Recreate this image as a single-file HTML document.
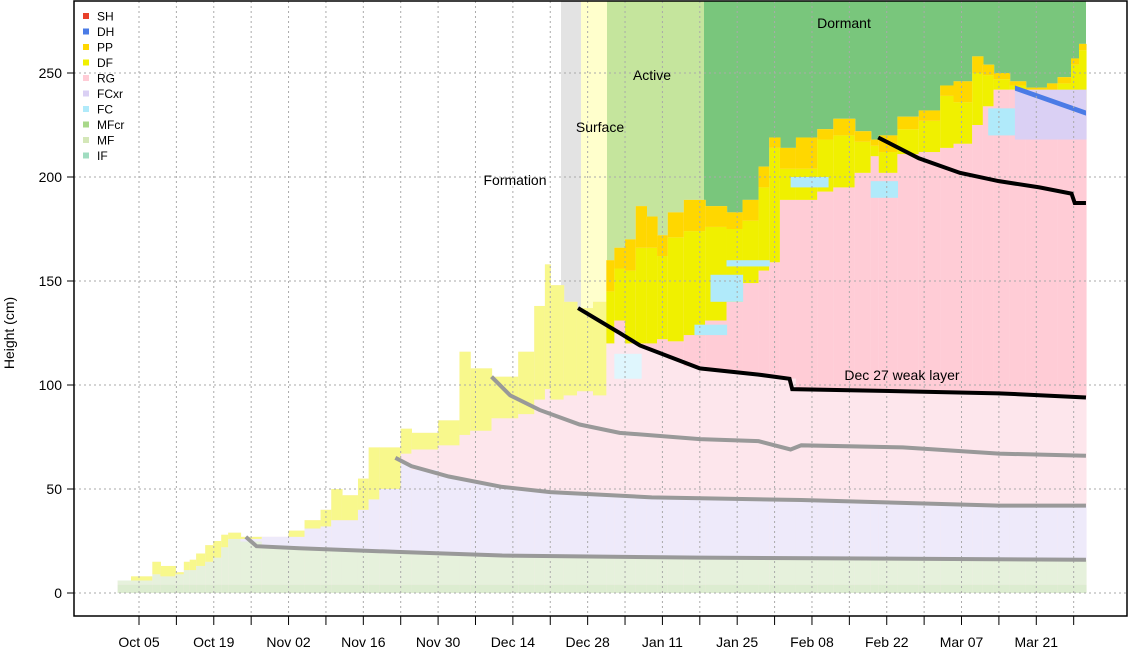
<!DOCTYPE html>
<html><head><meta charset="utf-8"><style>
html,body{margin:0;padding:0;background:#fff;}
svg{display:block;font-family:"Liberation Sans",Arial,sans-serif;}
</style></head>
<body>
<svg id="chart" width="1128" height="651" viewBox="0 0 1128 651">
<g id="bg"></g>
<g id="snow"></g>
<g id="grid"></g>
<g id="lines"></g>
<g id="axes"></g>
<g id="labels"></g>
<g id="legend"></g>
</svg>
<script>
// ---- data (days since Oct 05) ----
const stepDays = [-4,-1.5,2.5,4,6.8,8.4,9.5,10.7,12.4,13.9,15.4,16.7,19,23,28,31,34,36,38,41,43,45,49,51,56,60,62,66,71,74,76,77,79.5,82,85,87.5,89,91,93,95,97,99,102,106,110,113,116,118,120,123,127,130,134,137,138.5,142,146,150,152.5,156,158,160,163,166,170,172,174.5,176];
const stepEnd = 177.3;
const hsVals = [6,8,15,13,10,15,16,19,23,25,28,29,27,27,30,35,40,50,47,55,70,70,79,77,83,116,108,104,116,138,158,148,140,137,140,160,166,170,186,181,172,183,189,186,183,189,205,219,214,219,223,228,222,218,220,229,232,244,246,258,254,250,246,243,245,248,257,264];
const ppVals = [0,0,0,0,0,0,0,0,0,0,0,0,0,0,0,0,0,0,0,0,0,0,0,0,0,0,0,0,0,0,0,0,0,0,0,15,10,15,20,15,10,12,15,10,8,10,10,5,10,15,5,8,5,3,8,6,5,5,10,8,5,3,2,3,5,3,3,3];
const dfVals = [0,2,6,5,1,4,5,6,8,8,6,3,1,0,3,4,8,15,12,15,25,20,12,8,12,40,30,20,30,45,60,55,45,40,45,25,25,35,46,46,40,50,50,45,35,30,40,55,15,15,25,25,15,5,10,12,15,25,20,25,15,5,2,5,10,8,20,30];
const fullColorDay = 87.5;
// tracked layers: days and heights (cm)
const grey1Days = [20,22,30,49,68,105,177.3];
const grey1Vals = [27,22.5,21.5,19.7,18,17,16];
const grey2Days = [48,51,58,68,77,96,124,161,177.3];
const grey2Vals = [65,61,56,51,48.5,46,44.7,42,42];
const grey3Days = [66,69.5,75,82.5,90,105,116,122,124,143,161,177.3];
const grey3Vals = [104,95,88,81,77,74,73,69,71,70,67,66];
const black1Days = [82.2,90,93.8,105,116,121.8,122.3,133,161,177.3];
const black1Vals = [137,125,119,108,105,103,98,97.5,96,94];
const black2Days = [138.4,146,153.7,161,168.6,174.6,175.2,177.3];
const black2Vals = [219,209,202,198,195,192,187.5,187.5];
// extra bands [startDay, endDay, bottom, top]
const fcBands = [[107,113,140,153],[104,110,124,129],[110,118,157,160],[122,129,195,200],[137,142,190,198],[159,170,220,233],[89,94,103,115]];
const fcxrBands = [[164,177.3,218,242]];
const dhStart=[164,244]; const dhEnd=[177.3,232];
const yTicks=[0,50,100,150,200,250];
const xLabelDays=[0,14,28,42,56,70,84,98,112,126,140,154,168];
const xLabels=["Oct 05","Oct 19","Nov 02","Nov 16","Nov 30","Dec 14","Dec 28","Jan 11","Jan 25","Feb 08","Feb 22","Mar 07","Mar 21"];
const legendNames=["SH","DH","PP","DF","RG","FCxr","FC","MFcr","MF","IF"];
const legendColors=["#e8402a","#4a7be6","#ffd700","#f0f000","#ffccd6","#dad0f4","#b0eafa","#a8d88a","#d4e7b8","#a0dcc0"];

// ---- scales ----
const L=74,R=1127,T=1,B=616;
function X(d){return 139+5.341*d;}
function Y(v){return 593-2.08*v;}
const NS="http://www.w3.org/2000/svg";
function mk(tag,attrs,parent){const e=document.createElementNS(NS,tag);for(const k in attrs)e.setAttribute(k,attrs[k]);parent.appendChild(e);return e;}
function interp(days,vals,d){if(d<days[0])return null;for(let i=0;i<days.length-1;i++){if(d<=days[i+1]){const t=(d-days[i])/(days[i+1]-days[i]);return vals[i]+t*(vals[i+1]-vals[i]);}}return vals[vals.length-1];}

// backgrounds
const bg=document.getElementById('bg');
[[561,581,"#e3e3e3","phase-formation-bg"],[581,607,"#ffffcc","phase-surface-bg"],[607,704,"#c5e59d","phase-active-bg"],[704,1086,"#79c67c","phase-dormant-bg"]].forEach(p=>{
 const r=mk('rect',{x:p[0],y:T,width:p[1]-p[0],height:Y(0)-T,fill:p[2]},bg);
 
 
});

// snow
const snow=document.getElementById('snow');
function band(x0,x1,b,t,col,name){if(t<=b)return;const r=mk('rect',{x:x0,y:Y(t),width:x1-x0+0.6,height:Y(b)-Y(t),fill:col},snow);
 
 }
for(let i=0;i<stepDays.length;i++){
 const d0=stepDays[i],d1=(i<stepDays.length-1)?stepDays[i+1]:stepEnd,dm=(d0+d1)/2;
 const x0=X(d0),x1=X(d1);
 const hs=hsVals[i],pp=ppVals[i],df=dfVals[i];
 const full=d0>=fullColorDay;
 const old=hs-pp-df;
 band(x0,x1,0,hs,"#fde6ec","snow-base-rg");
 const g1=interp(grey1Days,grey1Vals,dm),g2=interp(grey2Days,grey2Vals,dm),g3=interp(grey3Days,grey3Vals,dm),b1=interp(black1Days,black1Vals,dm);
 const top1=g1===null?old:Math.min(g1,old);
 band(x0,x1,0,Math.min(4,old),"#dcecd0","snow-mf-base");
 band(x0,x1,4,top1,"#e6f1dc","snow-mf-lower");
 if(g1!==null){const t2=g2===null?old:Math.min(g2,old);band(x0,x1,Math.max(g1,4),t2,"#eeeafa","snow-fcxr-band");}
 if(b1!==null){band(x0,x1,b1,old,"#ffccd6","snow-rg-full");}
 band(x0,x1,old,hs-pp,full?"#f0f000":"#f8f88c","snow-df");
 band(x0,x1,hs-pp,hs,full?"#ffd700":"#fce98c","snow-pp");
}
fcBands.forEach(f=>band(X(f[0]),X(f[1]),f[2],f[3],f[0]<95?"#dff6fd":"#b0eafa","snow-fc-band"));
fcxrBands.forEach(f=>band(X(f[0]),X(f[1]),f[2],f[3],"#dad0f4","snow-fcxr-full"));
{const p=mk('polygon',{points:`${X(dhStart[0])},${Y(dhStart[1])} ${X(dhEnd[0])},${Y(dhEnd[1])} ${X(dhEnd[0])},${Y(dhEnd[1]-2.5)} ${X(dhStart[0])},${Y(dhStart[1]-2.5)}`,fill:"#4a7be6"},snow);
 
 }

// grid
const grid=document.getElementById('grid');
yTicks.forEach(v=>{const l=mk('line',{x1:L,x2:R,y1:Y(v),y2:Y(v),stroke:"#aaa","stroke-dasharray":"2,3"},grid);
 
 });
for(let d=0;d<=175;d+=7){const l=mk('line',{x1:X(d),x2:X(d),y1:T,y2:B,stroke:"#aaa","stroke-dasharray":"2,3"},grid);
 
 }

// lines
const lines=document.getElementById('lines');
function pl(days,vals,col,name){const pts=days.map((d,i)=>X(d)+","+Y(vals[i])).join(" ");const p=mk('polyline',{points:pts,fill:"none",stroke:col,"stroke-width":4},lines);
 
 }
pl(grey1Days,grey1Vals,"#999","layer-line-oct22");
pl(grey2Days,grey2Vals,"#999","layer-line-nov17");
pl(grey3Days,grey3Vals,"#999","layer-line-dec10");
pl(black1Days,black1Vals,"#000","layer-line-dec27");
pl(black2Days,black2Vals,"#000","layer-line-feb22");

// axes
const axes=document.getElementById('axes');
{const f=mk('rect',{x:L,y:T,width:R-L,height:B-T,fill:"none",stroke:"#000","stroke-width":1.5},axes);
 
 }
yTicks.forEach(v=>{mk('line',{x1:L-7,x2:L,y1:Y(v),y2:Y(v),stroke:"#000"},axes);
 const t=mk('text',{x:L-12,y:Y(v)+5,"text-anchor":"end","font-size":14},axes);t.textContent=v;
 
 });
for(let d=0;d<=175;d+=7){mk('line',{x1:X(d),x2:X(d),y1:B,y2:B+9,stroke:"#000"},axes);}
xLabelDays.forEach((d,i)=>{const t=mk('text',{x:X(d),y:647,"text-anchor":"middle","font-size":14},axes);t.textContent=xLabels[i];
 
 });
{const t=mk('text',{x:14,y:Y(125),"text-anchor":"middle","font-size":14,transform:`rotate(-90 14 ${Y(125)})`},axes);t.textContent="Height (cm)";
 
 }

// annotations
const labels=document.getElementById('labels');
[["Formation",515,185],["Surface",600,132],["Active",652,80],["Dormant",844,28],["Dec 27 weak layer",902,380]].forEach(a=>{
 const t=mk('text',{x:a[1],y:a[2],"text-anchor":"middle","font-size":14},labels);t.textContent=a[0];
 
 });

// legend
const legend=document.getElementById('legend');
legendNames.forEach((n,i)=>{const y=16+15.5*i;
 const g=mk('g',{},legend);
 
 
 mk('rect',{x:83,y:y-3,width:6,height:6,fill:legendColors[i]},g);
 const t=mk('text',{x:97,y:y+4.5,"font-size":12},g);t.textContent=n;});
</script>
</body></html>
